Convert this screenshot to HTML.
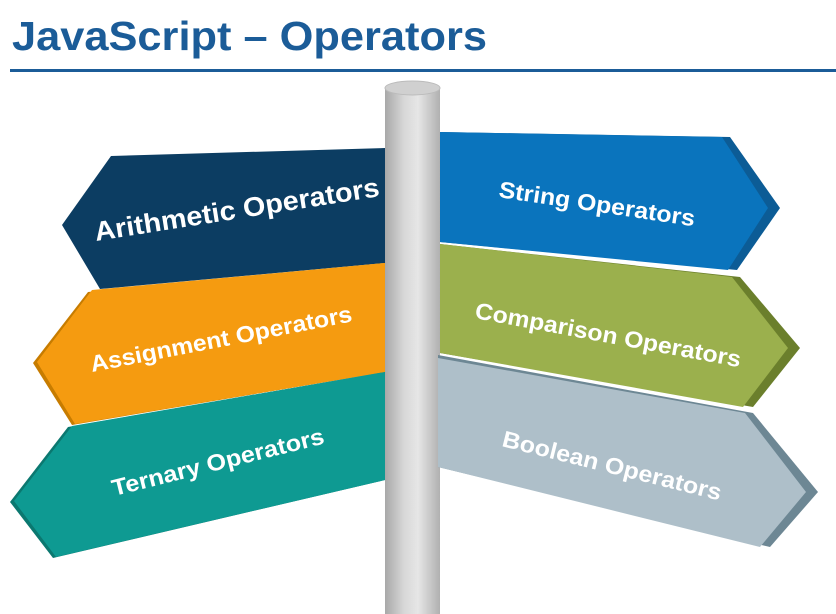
<!DOCTYPE html>
<html><head><style>
html,body{margin:0;padding:0;background:#fff;width:836px;height:614px;overflow:hidden}
</style></head><body>
<svg width="836" height="614" viewBox="0 0 836 614" xmlns="http://www.w3.org/2000/svg" style="display:block">
<defs>
<linearGradient id="pole" x1="0" x2="1" y1="0" y2="0">
<stop offset="0" stop-color="#a8a8a8"/><stop offset="0.35" stop-color="#d8d8d8"/><stop offset="0.6" stop-color="#e6e6e6"/><stop offset="1" stop-color="#b0b0b0"/>
</linearGradient>
</defs>
<rect width="836" height="614" fill="#fff"/>
<text x="12" y="50" font-family="Liberation Sans, sans-serif" font-weight="bold" font-size="41" fill="#1b5c98" textLength="475" lengthAdjust="spacingAndGlyphs">JavaScript – Operators</text>
<rect x="10" y="69" width="826" height="3" fill="#1b5c98"/>
<rect x="385" y="88" width="55" height="526" fill="url(#pole)"/>
<ellipse cx="412.5" cy="88" rx="27.5" ry="7" fill="#d0d0d0" stroke="#bbb"/>
<polygon points="111,156 385,148 385,263 100,289 62,225" fill="#0c3d62"/>
<polygon points="88,292 385,263 385,372 72,425 33,363" fill="#c77c00"/>
<polygon points="92,290 385,263 385,372 75,424 37,362" fill="#f59b10"/>
<polygon points="68,427 385,372 385,480 53,558 10,502" fill="#0b7870"/>
<polygon points="72,426 385,372 385,480 56,557 14,501" fill="#0e9a92"/>
<polygon points="440,132 730,137 780,208 737,270 440,242" fill="#0c5c96"/>
<polygon points="440,132 722,137 768,208 728,270 440,242" fill="#0a74bd"/>
<polygon points="440,244 740,277 800,348 753,407 440,353" fill="#6b7f2c"/>
<polygon points="440,244 732,277 788,348 743,407 440,353" fill="#9bb04d"/>
<polygon points="438,355 753,413 818,492 770,547 438,467" fill="#6d8794"/>
<polygon points="438,358 745,413 806,492 760,547 438,467" fill="#aebfc9"/>
<g font-family="Liberation Sans, sans-serif" font-weight="bold" fill="#fff">
<text transform="translate(96,241) rotate(-9)" font-size="27" textLength="288" lengthAdjust="spacingAndGlyphs">Arithmetic Operators</text>
<text transform="translate(92,372) rotate(-11)" font-size="23" textLength="266" lengthAdjust="spacingAndGlyphs">Assignment Operators</text>
<text transform="translate(114,496) rotate(-14)" font-size="23" textLength="218" lengthAdjust="spacingAndGlyphs">Ternary Operators</text>
<text transform="translate(498,197) rotate(8.5)" font-size="23" textLength="198" lengthAdjust="spacingAndGlyphs">String Operators</text>
<text transform="translate(474,318) rotate(10.5)" font-size="23" textLength="270" lengthAdjust="spacingAndGlyphs">Comparison Operators</text>
<text transform="translate(501,446) rotate(14)" font-size="23" textLength="225" lengthAdjust="spacingAndGlyphs">Boolean Operators</text>
</g>
</svg>
</body></html>
